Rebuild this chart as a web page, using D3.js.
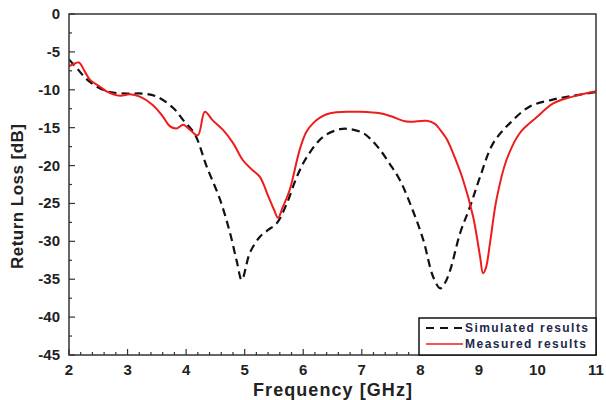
<!DOCTYPE html>
<html>
<head>
<meta charset="utf-8">
<script src="https://cdn.jsdelivr.net/npm/d3@7"></script>
<style>
  body { margin: 0; background: #fff; }
  text { font-family: Arial, "Liberation Sans", sans-serif; }
</style>
</head>
<body>
<svg id="chart" width="606" height="400"></svg>
<script>
// 仿真结果 (frequency GHz, return loss dB)
const simFreq = [2.0, 2.15, 2.3, 2.5, 2.7, 3.0, 3.26, 3.5, 3.78, 3.95, 4.15, 4.35, 4.58, 4.75, 4.87, 4.95, 5.09, 5.26, 5.4, 5.55, 5.72, 5.89, 6.06, 6.34, 6.63, 6.8, 7.02, 7.15, 7.31, 7.48, 7.65, 7.87, 8.05, 8.22, 8.34, 8.42, 8.51, 8.68, 8.85, 9.02, 9.24, 9.53, 9.87, 10.26, 10.6, 11.0];
const simLoss = [-6.0, -7.3, -8.6, -9.7, -10.3, -10.5, -10.5, -10.9, -12.4, -14.0, -15.9, -20.1, -24.5, -28.9, -32.8, -35.1, -31.5, -29.4, -28.5, -27.6, -25.0, -21.5, -18.9, -16.2, -15.2, -15.2, -15.7, -16.5, -17.9, -19.8, -21.9, -25.9, -29.8, -34.7, -36.2, -35.5, -33.8, -28.9, -25.4, -21.5, -17.1, -14.4, -12.2, -11.3, -10.8, -10.3];

// 测量结果
const measFreq = [2.0, 2.08, 2.17, 2.27, 2.36, 2.53, 2.65, 2.87, 3.04, 3.21, 3.43, 3.6, 3.72, 3.84, 3.95, 4.07, 4.2, 4.32, 4.45, 4.63, 4.8, 4.97, 5.12, 5.26, 5.4, 5.5, 5.57, 5.65, 5.77, 5.94, 6.05, 6.17, 6.3, 6.46, 6.8, 6.97, 7.31, 7.5, 7.77, 8.11, 8.25, 8.34, 8.45, 8.56, 8.73, 8.9, 9.02, 9.07, 9.12, 9.19, 9.3, 9.47, 9.7, 9.99, 10.27, 10.6, 11.0];
const measLoss = [-6.9, -6.6, -6.4, -7.6, -8.7, -9.6, -10.25, -10.8, -10.6, -10.9, -12.0, -13.5, -14.8, -15.1, -14.6, -15.3, -16.0, -12.9, -14.0, -15.3, -17.0, -19.3, -20.5, -21.5, -24.0, -25.8, -26.9, -25.5, -23.2, -17.9, -15.6, -14.4, -13.6, -13.1, -12.9, -12.9, -13.1, -13.5, -14.2, -14.1, -14.5, -15.3, -16.5, -18.4, -21.9, -26.7, -32.0, -34.2, -33.5, -30.2, -24.5, -19.3, -15.7, -13.6, -11.8, -10.9, -10.2];

const xTicks = [2, 3, 4, 5, 6, 7, 8, 9, 10, 11];
const yTicks = [0, -5, -10, -15, -20, -25, -30, -35, -40, -45];
const legendLabels = ["Simulated results", "Measured results"];

const svg = d3.select("#chart");
const pLeft = 69, pRight = 596, pTop = 14, pBottom = 355;

const x = d3.scaleLinear().domain([2, 11]).range([pLeft, pRight]);
const y = d3.scaleLinear().domain([-45, 0]).range([pBottom, pTop]);

const axisColor = "#333";

// 刻度线
const g = svg.append("g");
const minorX = d3.range(2, 11.001, 0.2).filter(v => Math.abs(v - Math.round(v)) > 0.01);
g.selectAll(".mx").data(minorX).enter().append("line")
  .attr("x1", d => x(d)).attr("x2", d => x(d))
  .attr("y1", pBottom).attr("y2", pBottom - 3)
  .attr("stroke", axisColor).attr("stroke-width", 1.2);
g.selectAll(".Mx").data(xTicks).enter().append("line")
  .attr("x1", d => x(d)).attr("x2", d => x(d))
  .attr("y1", pBottom).attr("y2", pBottom - 6)
  .attr("stroke", axisColor).attr("stroke-width", 1.2);
const minorY = d3.range(-42.5, 0, 5);
g.selectAll(".my").data(minorY).enter().append("line")
  .attr("x1", pLeft).attr("x2", pLeft + 3)
  .attr("y1", d => y(d)).attr("y2", d => y(d))
  .attr("stroke", axisColor).attr("stroke-width", 1.2);
g.selectAll(".My").data(yTicks).enter().append("line")
  .attr("x1", pLeft).attr("x2", pLeft + 6)
  .attr("y1", d => y(d)).attr("y2", d => y(d))
  .attr("stroke", axisColor).attr("stroke-width", 1.2);

// 刻度标签
g.selectAll(".xl").data(xTicks).enter().append("text")
  .attr("x", d => x(d)).attr("y", 375)
  .attr("text-anchor", "middle")
  .attr("font-size", 15).attr("font-weight", "bold").attr("fill", "#222")
  .text(d => d);
g.selectAll(".yl").data(yTicks).enter().append("text")
  .attr("x", 60).attr("y", d => y(d) + 5)
  .attr("text-anchor", "end")
  .attr("font-size", 15).attr("font-weight", "bold").attr("fill", "#222")
  .text(d => d);

// 坐标轴标题
svg.append("text")
  .attr("x", 253).attr("y", 396)
  .attr("font-size", 18).attr("font-weight", "bold").attr("fill", "#222")
  .attr("textLength", 159)
  .text("Frequency [GHz]");
svg.append("text")
  .attr("transform", "translate(23,197) rotate(-90)")
  .attr("x", -72)
  .attr("font-size", 17).attr("font-weight", "bold").attr("fill", "#222")
  .attr("textLength", 145)
  .text("Return Loss [dB]");

// 曲线
const line = d3.line().x(d => x(d[0])).y(d => y(d[1])).curve(d3.curveCatmullRom);
svg.append("clipPath").attr("id", "clip").append("rect")
  .attr("x", pLeft).attr("y", pTop).attr("width", pRight - pLeft).attr("height", pBottom - pTop);

svg.append("path")
  .datum(simFreq.map((f, i) => [f, simLoss[i]]))
  .attr("clip-path", "url(#clip)")
  .attr("d", line)
  .attr("fill", "none").attr("stroke", "#111").attr("stroke-width", 2.2)
  .attr("stroke-dasharray", "8,5");

svg.append("path")
  .datum(measFreq.map((f, i) => [f, measLoss[i]]))
  .attr("clip-path", "url(#clip)")
  .attr("d", line)
  .attr("fill", "none").attr("stroke", "#ee1c1c").attr("stroke-width", 2);

// 边框
svg.append("rect")
  .attr("x", pLeft).attr("y", pTop).attr("width", pRight - pLeft).attr("height", pBottom - pTop)
  .attr("fill", "none").attr("stroke", axisColor).attr("stroke-width", 1.5);

// 图例
const lg = svg.append("g");
lg.append("rect")
  .attr("x", 419).attr("y", 318).attr("width", pRight - 419).attr("height", pBottom - 318)
  .attr("fill", "#fff").attr("stroke", "#111").attr("stroke-width", 1.5);
lg.append("line")
  .attr("x1", 426).attr("x2", 463).attr("y1", 328).attr("y2", 328)
  .attr("stroke", "#111").attr("stroke-width", 2).attr("stroke-dasharray", "8,6");
lg.append("line")
  .attr("x1", 426).attr("x2", 463).attr("y1", 344).attr("y2", 344)
  .attr("stroke", "#ee1c1c").attr("stroke-width", 1.5);
lg.selectAll(".lt").data(legendLabels).enter().append("text")
  .attr("x", 465).attr("y", (d, i) => 332 + i * 16)
  .attr("font-size", 12).attr("font-weight", "bold").attr("fill", "#23284a")
  .attr("textLength", (d, i) => i === 0 ? 123 : 121)
  .text(d => d);
</script>
</body>
</html>
